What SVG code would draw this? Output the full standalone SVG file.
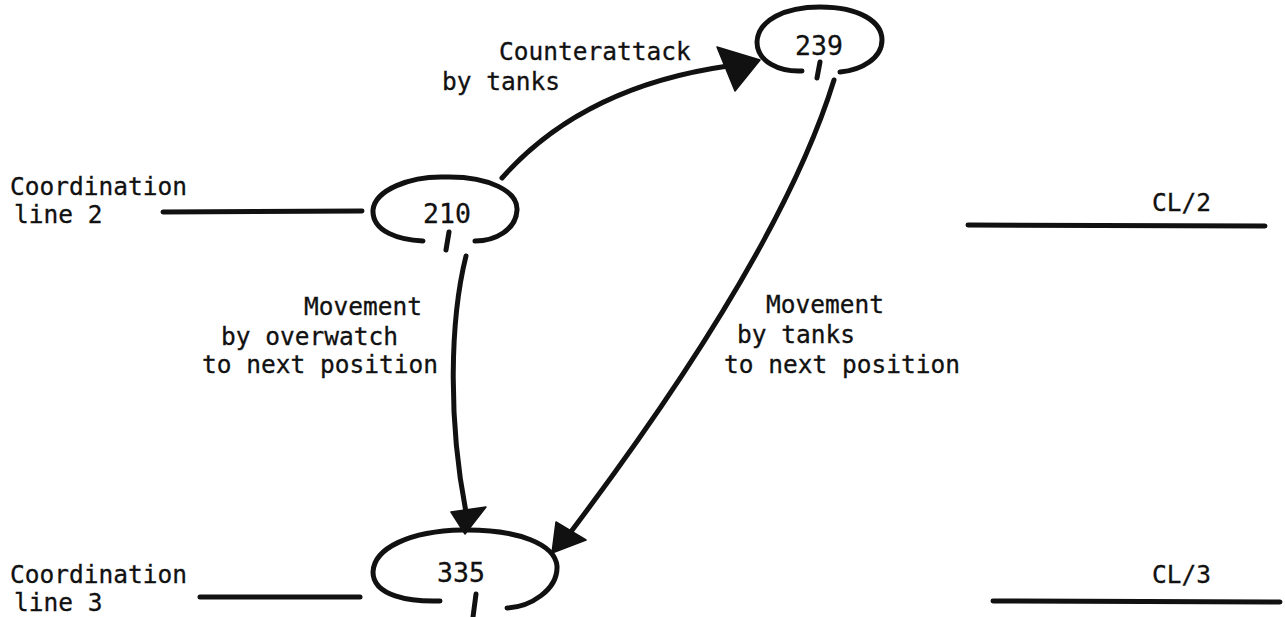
<svg xmlns="http://www.w3.org/2000/svg" width="1285" height="617" viewBox="0 0 1285 617">
<style>
text{font-family:"DejaVu Sans Mono","Liberation Mono",monospace;font-size:24.5px;fill:#111;stroke:#111;stroke-width:0.3}
.n{text-anchor:middle;font-size:26.5px}
.loop,.shaft,.cl{fill:none;stroke:#111;stroke-width:5;stroke-linecap:round}
.head{fill:#111;stroke:#111;stroke-width:1.5;stroke-linejoin:round}
</style>
<rect width="1285" height="617" fill="#fff"/>
<g id="coordination-lines">
<text x="10" y="195">Coordination</text>
<text x="14" y="223">line 2</text>
<line class="cl" x1="163" y1="212" x2="362" y2="211"/>
<text x="1152" y="211">CL/2</text>
<line class="cl" x1="968" y1="225" x2="1265" y2="226"/>
<text x="10" y="583">Coordination</text>
<text x="14" y="611">line 3</text>
<line class="cl" x1="200" y1="597" x2="360" y2="597"/>
<text x="1152" y="583">CL/3</text>
<line class="cl" x1="993" y1="601" x2="1280" y2="602"/>
</g>
<g id="node-210">
<path class="loop" d="M423 241 C400 240 372 232 373 210 C375 190 410 176 445 177 C490 176 518 192 517 210 C516 230 495 241 475 241"/>
<line class="loop" x1="449" y1="232" x2="446" y2="250"/>
<text class="n" x="447" y="223">210</text>
</g>
<g id="node-239">
<path class="loop" d="M802 71 C780 72 757 62 757 42 C758 20 785 7 820 7 C860 7 882 22 882 40 C882 58 862 70 840 72"/>
<line class="loop" x1="820" y1="62" x2="817" y2="78"/>
<text class="n" x="819" y="55">239</text>
</g>
<g id="node-335">
<path class="loop" d="M440 601 C410 602 373 596 373 572 C374 548 410 531 462 530 C520 529 555 545 557 566 C558 590 530 607 507 608"/>
<line class="loop" x1="476" y1="594" x2="473" y2="617"/>
<text class="n" x="461" y="582">335</text>
</g>
<g id="connectors">
<path class="shaft" d="M502 178 C555 118 630 80 728 66"/>
<polygon class="head" points="717,47 760,60 735,91"/>
<path class="shaft" d="M466 256 C450 320 448 420 466 512"/>
<polygon class="head" points="451,512 486,507 465,534"/>
<path class="shaft" d="M834 80 Q780 255 570 533"/>
<polygon class="head" points="556,522 586,540 552,553"/>
</g>
<g id="labels">
<text x="499" y="60">Counterattack</text>
<text x="442" y="90">by tanks</text>
<text x="304" y="315">Movement</text>
<text x="221" y="345">by overwatch</text>
<text x="202" y="373">to next position</text>
<text x="766" y="313">Movement</text>
<text x="737" y="343">by tanks</text>
<text x="724" y="373">to next position</text>
</g>
</svg>
